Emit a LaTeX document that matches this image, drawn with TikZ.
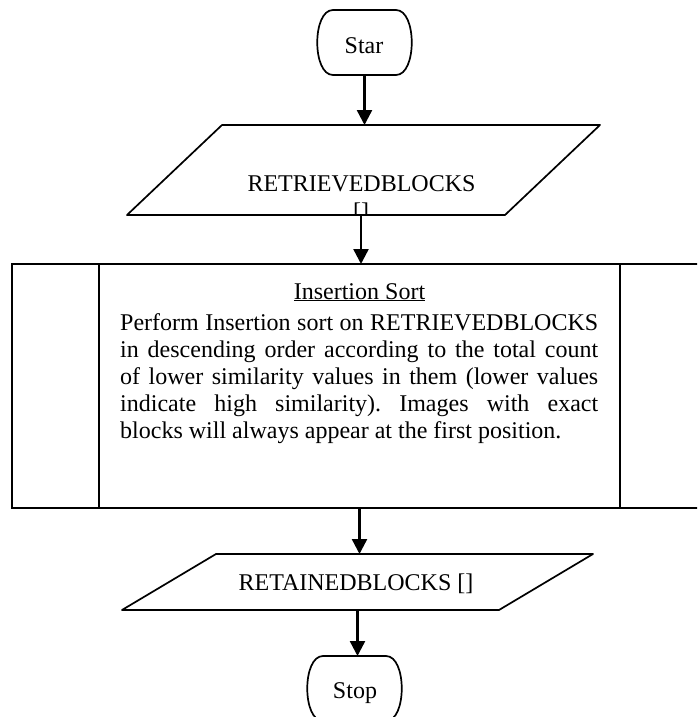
\documentclass[tikz,border=0pt]{standalone}
\usepackage{fontspec}
\setmainfont{Liberation Serif}
\usetikzlibrary{arrows.meta,calc}
\frenchspacing
\begin{document}
\begin{tikzpicture}[x=1pt,y=-1pt,
  shapeline/.style={line width=1.7pt, line join=round},
  flow/.style={line width=2.4pt, -{Triangle[length=15pt,width=15pt]}},
  frame/.style={inner sep=0pt, outer sep=0pt},
  lbl/.style={font=\fontsize{24}{27}\selectfont, inner sep=0pt}]
\clip (0,0) rectangle (697,717);

% Start terminal
\node[frame, minimum width=95pt, minimum height=65pt] (start) at (364.5,42.5) {};
\draw[shapeline] ([xshift=16pt]start.north west) -- ([xshift=-16pt]start.north east)
  .. controls ([xshift=5pt]start.north east) and ([xshift=5pt]start.south east) .. ([xshift=-16pt]start.south east)
  -- ([xshift=16pt]start.south west)
  .. controls ([xshift=-5pt]start.south west) and ([xshift=-5pt]start.north west) .. cycle;
\node[lbl, anchor=base] (starttext) at (364,53) {Star};

% Input block
\node[frame, minimum width=473pt, minimum height=90pt] (in1) at (363.5,170) {};
\draw[shapeline] ([xshift=95pt]in1.north west) -- (in1.north east)
  -- ([xshift=-95pt]in1.south east) -- (in1.south west) -- cycle;
\node[lbl, anchor=base] (in1text) at (361.5,191) {RETRIEVEDBLOCKS};
\begin{scope}
  \clip ([xshift=95pt]in1.north west) -- (in1.north east)
    -- ([xshift=-95pt]in1.south east) -- (in1.south west) -- cycle;
  \node[lbl, anchor=base] (in1br) at (361,219.5) {[]};
\end{scope}

% Predefined process
\node[frame, draw, line width=1.9pt, minimum width=695pt, minimum height=244pt] (sort) at (359.5,386) {};
\draw[line width=1.9pt] ([xshift=87pt]sort.north west) -- ([xshift=87pt]sort.south west);
\draw[line width=1.9pt] ([xshift=-87pt]sort.north east) -- ([xshift=-87pt]sort.south east);
\node[lbl, anchor=base] (title) at (359.5,299) {\underline{Insertion Sort}};
\node[lbl, anchor=base west] (body) at (120,330) {\parbox[t]{478pt}{\hyphenpenalty=10000
Perform Insertion sort on RETRIEVEDBLOCKS\linebreak
in descending order according to the total count\linebreak
of lower similarity values in them (lower values\linebreak
indicate high similarity). Images with exact\linebreak
blocks will always appear at the first position.}};

% Output block
\node[frame, minimum width=471pt, minimum height=56pt] (out1) at (357.5,582) {};
\draw[shapeline] ([xshift=94pt]out1.north west) -- (out1.north east)
  -- ([xshift=-94pt]out1.south east) -- (out1.south west) -- cycle;
\node[lbl, anchor=base] (out1text) at (356,590) {RETAINEDBLOCKS []};

% Stop terminal
\node[frame, minimum width=95pt, minimum height=65pt] (stop) at (354.5,688.5) {};
\draw[shapeline] ([xshift=16pt]stop.north west) -- ([xshift=-16pt]stop.north east)
  .. controls ([xshift=5pt]stop.north east) and ([xshift=5pt]stop.south east) .. ([xshift=-16pt]stop.south east)
  -- ([xshift=16pt]stop.south west)
  .. controls ([xshift=-5pt]stop.south west) and ([xshift=-5pt]stop.north west) .. cycle;
\node[lbl, anchor=base] (stoptext) at (355,698) {Stop};

% Connectors
\draw[flow] (start.south) -- (start.south |- in1.north);
\draw[flow] ([xshift=-2.5pt]in1.south) -- ([xshift=-2.5pt]in1.south |- sort.north);
\draw[flow] (sort.south) -- (sort.south |- out1.north);
\draw[flow] (out1.south) -- (out1.south |- stop.north);
\end{tikzpicture}
\end{document}
